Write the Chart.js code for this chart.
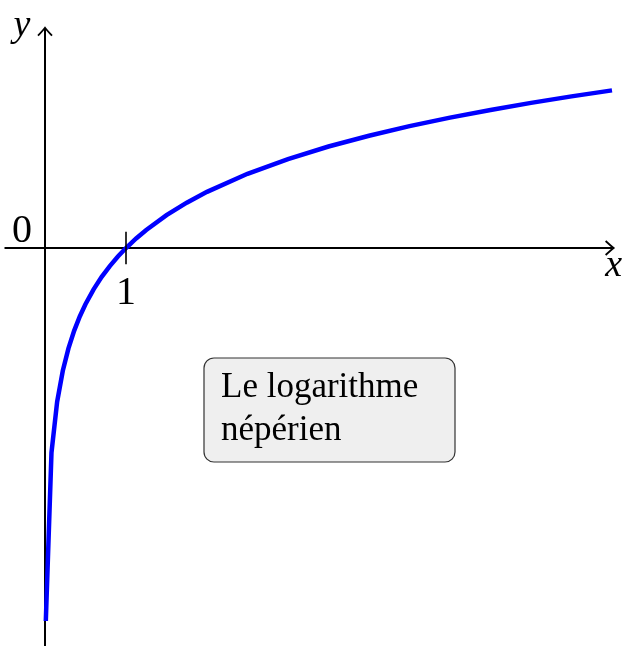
<!DOCTYPE html>
<html>
<head>
<meta charset="utf-8">
<script src="https://cdn.jsdelivr.net/npm/chart.js@4.4.0/dist/chart.umd.min.js"></script>
<style>
  html, body { margin: 0; padding: 0; background: #fff; }
  canvas { display: block; }
</style>
</head>
<body>
<canvas id="ln-chart" width="623" height="646"></canvas>
<script>
// échantillons de la courbe y = ln(x)
const xValues = [0.01, 0.0799, 0.1498, 0.2197, 0.2896, 0.3595, 0.4294, 0.4993,
    0.6, 0.7, 0.8, 0.9, 1, 1.125, 1.25, 1.5, 1.75, 2, 2.5, 3, 3.5, 4, 4.5, 5, 5.5, 6, 6.5, 7];
const yValues = [-4.6052, -2.527, -1.8984, -1.5155, -1.2393, -1.0231, -0.8454, -0.6946,
    -0.5108, -0.3567, -0.2231, -0.1054, 0, 0.1178, 0.2231, 0.4055, 0.5596, 0.6931, 0.9163,
    1.0986, 1.2528, 1.3863, 1.5041, 1.6094, 1.7047, 1.7918, 1.8718, 1.9459];

// axes et graduations
const xAxisRange = [-0.5, 7.02];
const yAxisRange = [-4.95, 2.72];
const xTicks = [1];
const xTickLabels = ["1"];
const boxLines = ["Le logarithme", "népérien"];

const serif = '"Liberation Serif", "DejaVu Serif", serif';

function arrowHead(ctx, tx, ty, dir) {
    // flèche ouverte façon TikZ
    ctx.save();
    ctx.translate(tx, ty);
    ctx.rotate(dir);
    ctx.beginPath();
    ctx.moveTo(-8, -7);
    ctx.quadraticCurveTo(-2, -1.5, 0, 0);
    ctx.quadraticCurveTo(-2, 1.5, -8, 7);
    ctx.lineWidth = 1.8;
    ctx.stroke();
    ctx.restore();
}

const axesPlugin = {
    id: "axes",
    beforeDatasetsDraw(chart) {
        const { ctx, scales: { x, y } } = chart;
        const x0 = x.getPixelForValue(0);
        const y0 = y.getPixelForValue(0);
        ctx.save();
        ctx.strokeStyle = "#000";
        ctx.lineWidth = 2;
        ctx.beginPath();
        ctx.moveTo(x.getPixelForValue(xAxisRange[0]), y0);
        ctx.lineTo(x.getPixelForValue(xAxisRange[1]) - 1, y0);
        ctx.moveTo(x0, y.getPixelForValue(yAxisRange[0]));
        ctx.lineTo(x0, y.getPixelForValue(yAxisRange[1]) + 1);
        ctx.stroke();
        arrowHead(ctx, x.getPixelForValue(xAxisRange[1]), y0, 0);
        arrowHead(ctx, x0, y.getPixelForValue(yAxisRange[1]), -Math.PI / 2);
        ctx.restore();
    },
    afterDraw(chart) {
        const { ctx, scales: { x, y } } = chart;
        const x0 = x.getPixelForValue(0);
        const y0 = y.getPixelForValue(0);
        ctx.save();
        ctx.strokeStyle = "#000";
        ctx.fillStyle = "#000";
        ctx.lineWidth = 1.6;

        // graduation en x = 1
        xTicks.forEach((t, i) => {
            const px = x.getPixelForValue(t);
            ctx.beginPath();
            ctx.moveTo(px, y.getPixelForValue(0.2));
            ctx.lineTo(px, y.getPixelForValue(-0.2));
            ctx.stroke();
            ctx.font = `40px ${serif}`;
            ctx.textAlign = "center";
            ctx.textBaseline = "alphabetic";
            ctx.fillText(xTickLabels[i], px, y0 + 56);
        });

        // origine
        ctx.font = `40px ${serif}`;
        ctx.textAlign = "center";
        ctx.fillText("0", x0 - 23, y0 - 6);

        // noms des axes
        ctx.font = `italic 38px ${serif}`;
        ctx.fillText("x", x.getPixelForValue(xAxisRange[1]), y0 + 28);
        ctx.fillText("y", x0 - 23, y.getPixelForValue(yAxisRange[1]) + 8);

        // cadre de texte
        const bx = 204, by = 358, bw = 251, bh = 104, r = 10;
        ctx.beginPath();
        ctx.roundRect(bx, by, bw, bh, r);
        ctx.fillStyle = "#efefef";
        ctx.fill();
        ctx.strokeStyle = "#333";
        ctx.lineWidth = 1.2;
        ctx.stroke();
        ctx.fillStyle = "#000";
        ctx.font = `35px ${serif}`;
        ctx.textAlign = "left";
        boxLines.forEach((line, i) => ctx.fillText(line, bx + 17, by + 39 + i * 43));
        ctx.restore();
    }
};

new Chart(document.getElementById("ln-chart").getContext("2d"), {
    type: "scatter",
    data: {
        datasets: [{
            data: xValues.map((v, i) => ({ x: v, y: yValues[i] })),
            showLine: true,
            borderColor: "#0000ff",
            borderWidth: 4.5,
            pointRadius: 0,
            tension: 0,
            fill: false
        }]
    },
    options: {
        responsive: false,
        devicePixelRatio: 1,
        animation: false,
        layout: { padding: 0 },
        plugins: { legend: { display: false }, tooltip: { enabled: false } },
        scales: {
            x: { type: "linear", display: false, min: -0.5556, max: 7.1358 },
            y: { type: "linear", display: false, min: -4.9136, max: 3.0617 }
        }
    },
    plugins: [axesPlugin]
});
</script>
</body>
</html>
